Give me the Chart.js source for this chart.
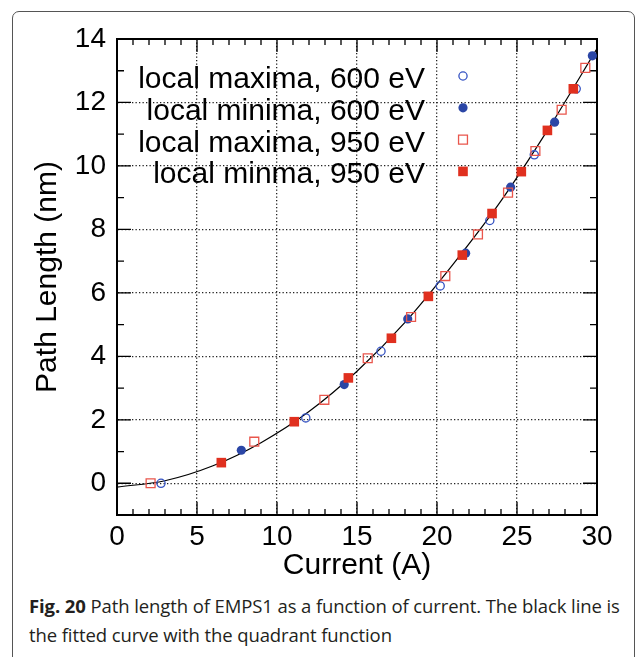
<!DOCTYPE html>
<html>
<head>
<meta charset="utf-8">
<style>
  html, body { margin: 0; padding: 0; background: #fff; }
  body { width: 637px; height: 657px; position: relative; overflow: hidden; }
  #frame { position: absolute; left: 12px; top: 11px; width: 621px; height: 700px; border: 1px solid #555; border-radius: 7px; }
  #wrap { position: absolute; left: 0; top: 0; width: 637px; height: 590px; }
  #caption { position: absolute; left: 29px; top: 591px; font-family: "Open Sans", sans-serif; font-size: 18.5px; line-height: 29px; color: #231f20; letter-spacing: -0.1px; white-space: nowrap; }
</style>
<script src="https://cdn.jsdelivr.net/npm/chart.js"></script>
</head>
<body>
<div id="frame"></div>
<div id="wrap"><canvas id="pathChart" width="637" height="590"></canvas></div>
<div id="caption"><b>Fig. 20</b> Path length of EMPS1 as a function of current. The black line is<br>the fitted curve with the quadrant function</div>
<script>
    const FONT = '"Liberation Sans", Arial, sans-serif';

    // local maxima, 600 eV (open circles)
    const max600X = [2.75, 11.8, 16.5, 20.2, 23.3, 26.08, 28.7];
    const max600Y = [0.0, 2.06, 4.16, 6.22, 8.28, 10.35, 12.43];
    // local minima, 600 eV (filled circles)
    const min600X = [7.77, 14.2, 18.17, 21.79, 24.6, 27.35, 29.71];
    const min600Y = [1.04, 3.11, 5.18, 7.25, 9.33, 11.38, 13.47];
    // local maxima, 950 eV (open squares)
    const max950X = [2.1, 8.58, 12.96, 15.67, 18.38, 20.52, 22.56, 24.44, 26.15, 27.79, 29.27];
    const max950Y = [0.0, 1.31, 2.63, 3.94, 5.24, 6.53, 7.84, 9.16, 10.47, 11.77, 13.09];
    // local minma, 950 eV (filled squares)
    const min950X = [6.52, 11.08, 14.46, 17.15, 19.46, 21.58, 23.44, 25.27, 26.9, 28.52];
    const min950Y = [0.65, 1.94, 3.32, 4.57, 5.89, 7.19, 8.5, 9.82, 11.12, 12.43];
    // fitted curve
    const fitX = [0, 3, 6, 9, 12, 15, 18, 21, 24, 27, 30];
    const fitY = [-0.12, 0.08, 0.55, 1.28, 2.26, 3.53, 5.07, 6.9, 8.9, 11.2, 13.7];

    const xTicks = [0, 5, 10, 15, 20, 25, 30];
    const yTicks = [0, 2, 4, 6, 8, 10, 12, 14];

    const toPts = (xs, ys) => xs.map((x, i) => ({ x: x, y: ys[i] }));

    // inward tick marks on all four sides + the black frame
    const frameTicks = {
        id: 'frameTicks',
        beforeDatasetsDraw(chart) {
            const { ctx, chartArea: a, scales: { x, y } } = chart;
            ctx.save();
            ctx.strokeStyle = '#000';
            ctx.lineWidth = 1.3;
            ctx.beginPath();
            for (let v = x.min + 1; v < x.max; v++) {
                const px = x.getPixelForValue(v);
                const len = v % 5 === 0 ? 13 : 6;
                ctx.moveTo(px, a.bottom); ctx.lineTo(px, a.bottom - len);
                ctx.moveTo(px, a.top); ctx.lineTo(px, a.top + len);
            }
            for (let v = y.min + 1; v < y.max; v++) {
                const py = y.getPixelForValue(v);
                const len = v % 2 === 0 ? 14 : 7;
                ctx.moveTo(a.left, py); ctx.lineTo(a.left + len, py);
                ctx.moveTo(a.right, py); ctx.lineTo(a.right - len, py);
            }
            ctx.stroke();
            ctx.lineWidth = 2;
            ctx.strokeRect(a.left, a.top, a.right - a.left, a.bottom - a.top);
            ctx.restore();
        }
    };

    // legend: right-aligned text with the marker after it
    const cornerLegend = {
        id: 'cornerLegend',
        afterDraw(chart) {
            const { ctx, chartArea: a } = chart;
            ctx.save();
            ctx.font = '30px ' + FONT;
            ctx.textAlign = 'right';
            ctx.textBaseline = 'alphabetic';
            let row = 0;
            chart.data.datasets.forEach(ds => {
                if (!ds.label) return;
                const cy = a.top + 37 + row * 31.8;
                const cx = a.left + 346;
                ctx.fillStyle = '#000';
                ctx.fillText(ds.label, a.left + 308, cy + 12);
                ctx.beginPath();
                if (ds.pointStyle === 'rect') {
                    const s = ds.pointRadius * Math.SQRT1_2;
                    ctx.rect(cx - s, cy - s, 2 * s, 2 * s);
                } else {
                    ctx.arc(cx, cy, ds.pointRadius, 0, Math.PI * 2);
                }
                if (ds.pointBorderWidth > 0) {
                    ctx.lineWidth = ds.pointBorderWidth;
                    ctx.strokeStyle = ds.pointBorderColor;
                    ctx.stroke();
                } else {
                    ctx.fillStyle = ds.pointBackgroundColor;
                    ctx.fill();
                }
                row++;
            });
            ctx.restore();
        }
    };

    const ctx = document.getElementById('pathChart').getContext('2d');

    new Chart(ctx, {
        type: 'scatter',
        data: {
            datasets: [
                {
                    label: 'local maxima, 600 eV',
                    data: toPts(max600X, max600Y),
                    pointStyle: 'circle',
                    pointRadius: 4.1,
                    pointBorderWidth: 1.3,
                    pointBorderColor: '#3452c2',
                    pointBackgroundColor: 'rgba(0,0,0,0)',
                    order: 4
                },
                {
                    label: 'local minima, 600 eV',
                    data: toPts(min600X, min600Y),
                    pointStyle: 'circle',
                    pointRadius: 4.6,
                    pointBorderWidth: 0,
                    pointBorderColor: '#2b46a6',
                    pointBackgroundColor: '#2b46a6',
                    order: 3
                },
                {
                    label: 'local maxima, 950 eV',
                    data: toPts(max950X, max950Y),
                    pointStyle: 'rect',
                    pointRadius: 6.3,
                    pointBorderWidth: 1.3,
                    pointBorderColor: '#e9564c',
                    pointBackgroundColor: 'rgba(0,0,0,0)',
                    order: 2
                },
                {
                    label: 'local minma, 950 eV',
                    data: toPts(min950X, min950Y),
                    pointStyle: 'rect',
                    pointRadius: 6.8,
                    pointBorderWidth: 0,
                    pointBorderColor: '#e0301f',
                    pointBackgroundColor: '#e0301f',
                    order: 1
                },
                {
                    data: toPts(fitX, fitY),
                    showLine: true,
                    pointRadius: 0,
                    borderColor: '#000',
                    borderWidth: 1.2,
                    cubicInterpolationMode: 'monotone',
                    order: 5
                }
            ]
        },
        options: {
            responsive: false,
            animation: false,
            layout: { padding: { left: 0, top: 39, right: 40, bottom: 0 } },
            plugins: {
                legend: { display: false },
                tooltip: { enabled: false }
            },
            scales: {
                x: {
                    type: 'linear',
                    min: 0,
                    max: 30,
                    afterBuildTicks: s => { s.ticks = xTicks.map(v => ({ value: v })); },
                    afterFit: s => { s.height = 75; },
                    ticks: { color: '#000', font: { family: FONT, size: 28 }, padding: 5, maxRotation: 0, autoSkip: false },
                    grid: { color: '#222', lineWidth: 1.3, drawTicks: false },
                    border: { display: true, color: '#000', width: 2, dash: [1.3, 2.2] },
                    title: { display: true, text: 'Current (A)', color: '#000', font: { family: FONT, size: 30 }, padding: { top: 0, bottom: 6 } }
                },
                y: {
                    type: 'linear',
                    min: -1,
                    max: 14,
                    afterBuildTicks: s => { s.ticks = yTicks.map(v => ({ value: v })); },
                    afterFit: s => { s.width = 117; },
                    ticks: { color: '#000', font: { family: FONT, size: 28 }, padding: 11, autoSkip: false },
                    grid: { color: '#222', lineWidth: 1.3, drawTicks: false },
                    border: { display: true, color: '#000', width: 2, dash: [1.3, 2.2] },
                    title: { display: true, text: 'Path Length (nm)', color: '#000', font: { family: FONT, size: 30 }, padding: { top: 30, bottom: 0 } }
                }
            }
        },
        plugins: [frameTicks, cornerLegend]
    });
</script>
</body>
</html>
